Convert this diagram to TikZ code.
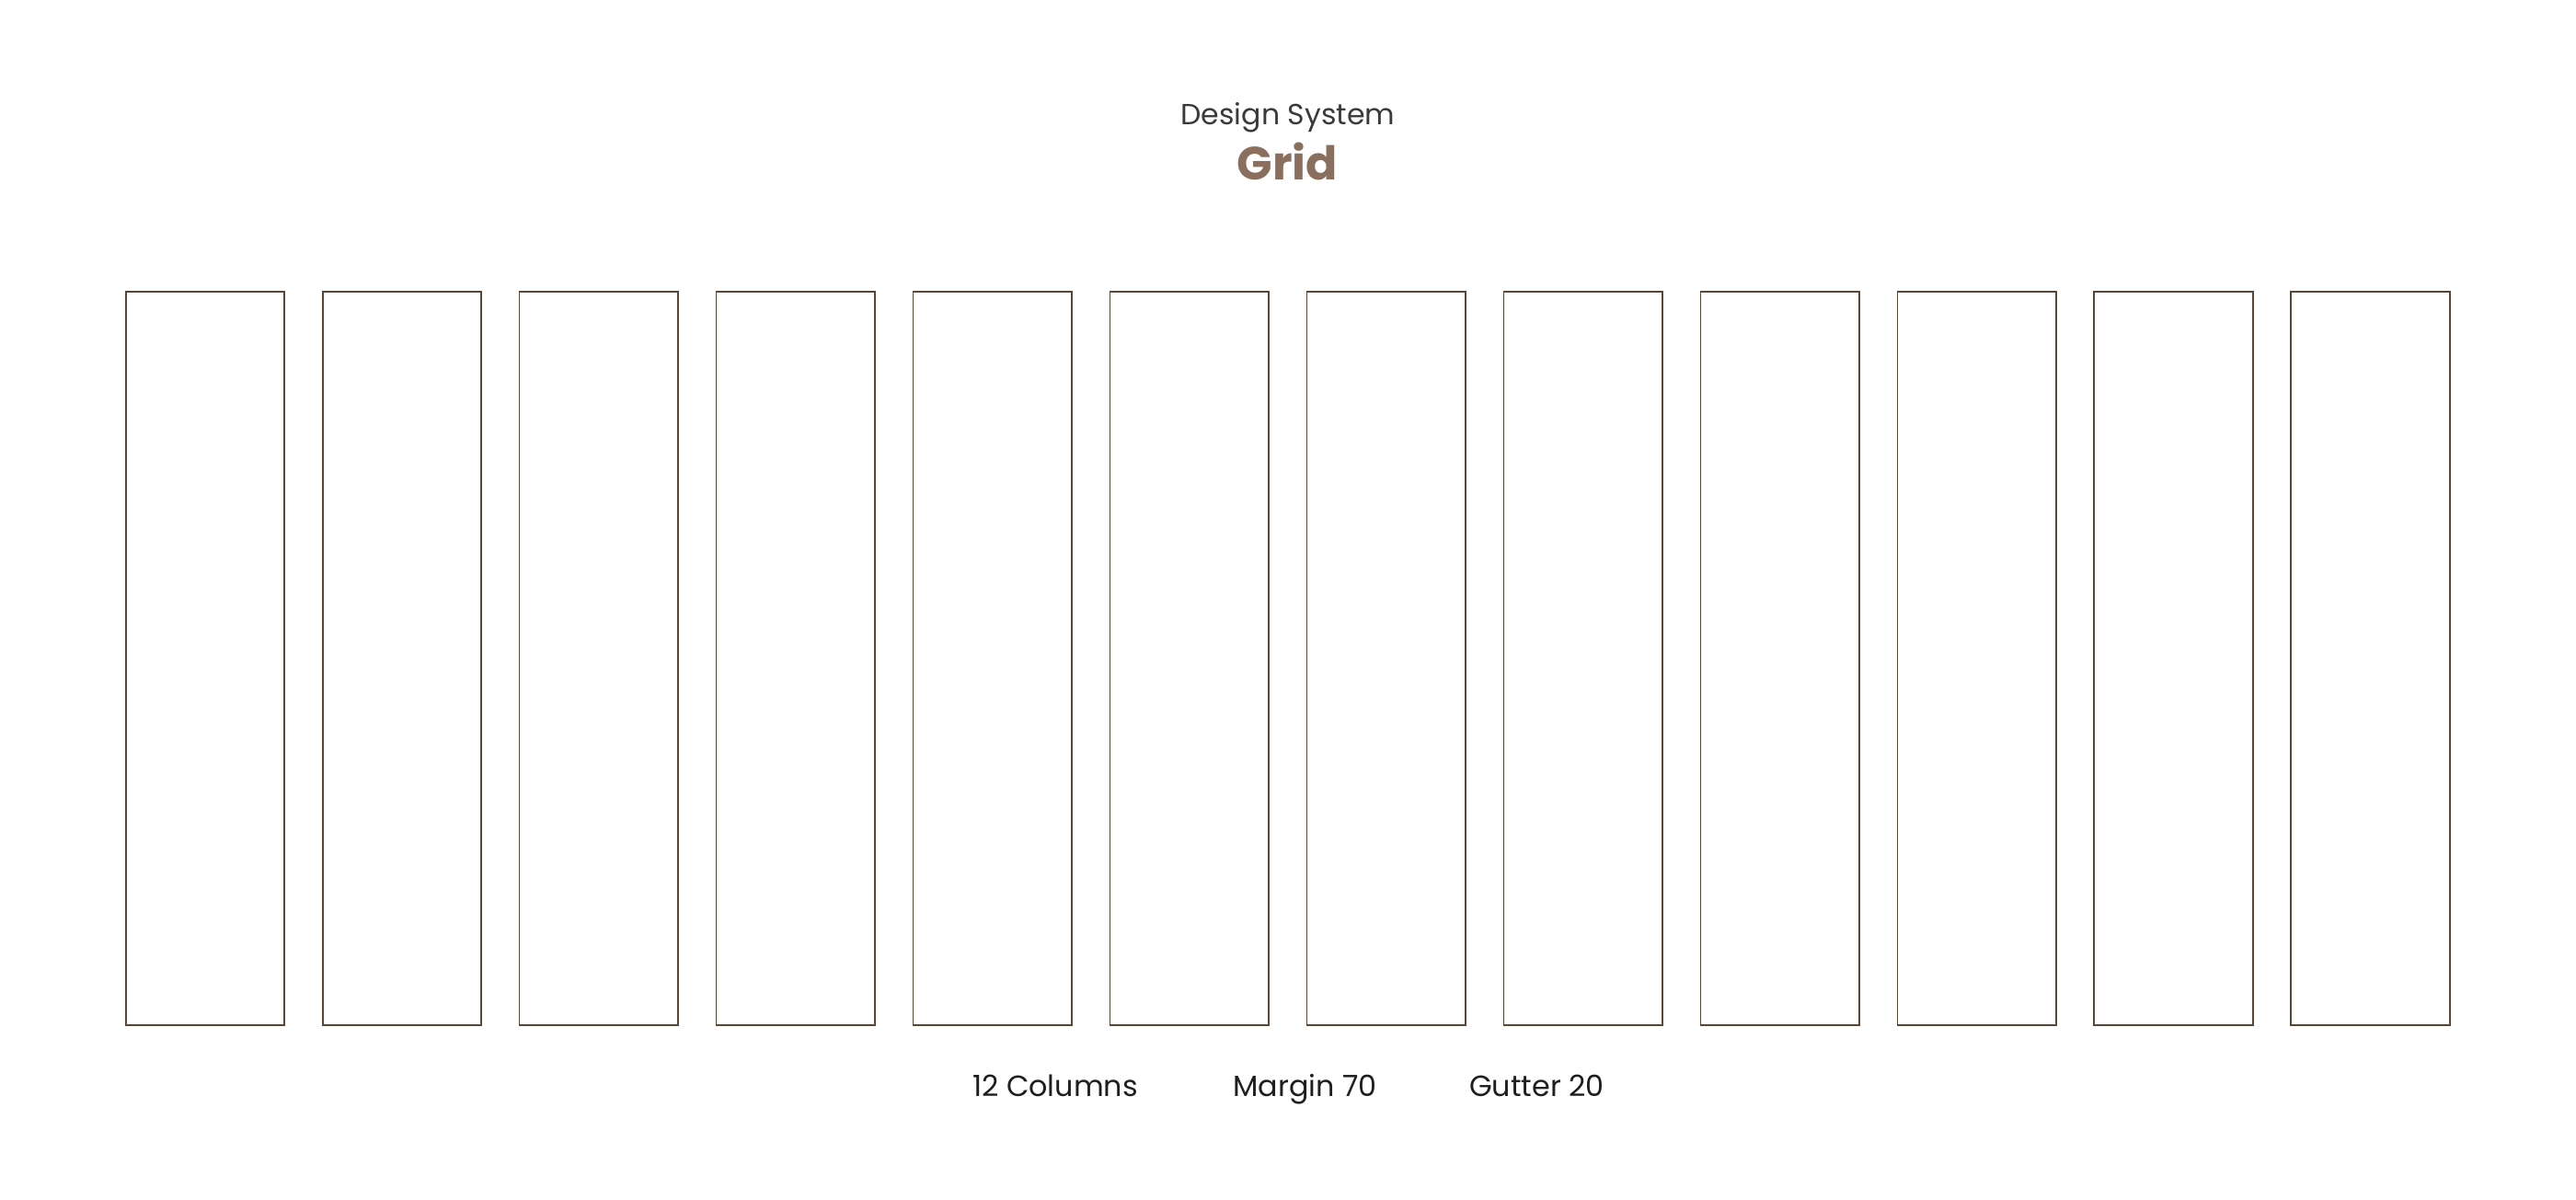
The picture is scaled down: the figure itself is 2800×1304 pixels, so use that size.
\documentclass[tikz,border=0pt]{standalone}
\usepackage{fontspec}
\setmainfont{Poppins}
\definecolor{colline}{HTML}{5B4636}
\definecolor{titlebrown}{HTML}{8A6E5E}
\definecolor{subgray}{HTML}{3A3A3A}
\definecolor{labelblack}{HTML}{1E1E1E}
\begin{document}
\begin{tikzpicture}[x=0.5pt,y=-0.5pt,
  colbox/.style={draw=colline,line width=0.85pt},
  lbl/.style={inner sep=0pt,anchor=base west,text=labelblack,font=\fontsize{15.9}{17}\selectfont}]
\useasboundingbox (0,0) rectangle (2800,1304);
\foreach \i in {0,...,11}{
  \draw[colbox] ({136.7+\i*213.96},316.7) rectangle ({309.2+\i*213.96},1114.3);
}
\node[inner sep=0pt,anchor=base,text=subgray,font=\fontsize{15.8}{17}\selectfont] (sub) at (1399.8,135.7) {Design System};
\node[inner sep=0pt,anchor=base,text=titlebrown,font=\fontsize{25.3}{27}\selectfont\bfseries] (title) at (1399.5,196) {Grid};
\node[lbl] (cols) at (1056.7,1191.7) {12 Columns};
\node[lbl] (margin) at (1340,1191.7) {Margin 70};
\node[lbl] (gutter) at (1596.7,1191.7) {Gutter 20};
\end{tikzpicture}
\end{document}
